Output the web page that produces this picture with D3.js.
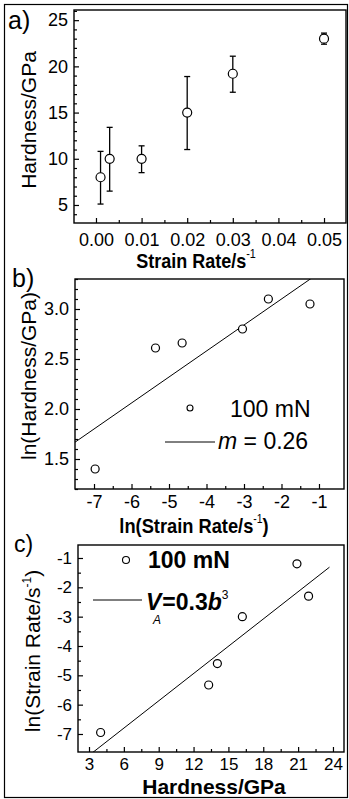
<!DOCTYPE html>
<html>
<head>
<meta charset="utf-8">
<script src="https://cdn.jsdelivr.net/npm/d3@7"></script>
<style>
  html, body { margin: 0; padding: 0; background: #fff; }
  svg { display: block; }
  text { font-family: "Liberation Sans", Arial, sans-serif; fill: #000; }
</style>
</head>
<body>
<script>
// panel a: hardness vs strain rate, with error bars
var aRate = [0.001, 0.003, 0.01, 0.02, 0.03, 0.05];
var aHard = [8, 10, 10, 15, 19.2, 23];
var aErrLow = [5.1, 6.5, 8.5, 11.0, 17.2, 22.4];
var aErrHigh = [10.8, 13.4, 11.4, 18.9, 21.1, 23.6];
var aXTicks = [0, 0.01, 0.02, 0.03, 0.04, 0.05];
var aYTicks = [5, 10, 15, 20, 25];

// panel b: ln(hardness) vs ln(strain rate)
var bLnRate = [-6.97, -5.36, -4.65, -3.04, -2.35, -1.24];
var bLnHard = [1.4, 2.61, 2.66, 2.8, 3.1, 3.05];
var bFit = [0.26, 3.62];        // slope, intercept
var bFitRange = [-7.6, -1.2];
var bXTicks = [-7, -6, -5, -4, -3, -2, -1];
var bYTicks = [1.5, 2.0, 2.5, 3.0];

// panel c: ln(strain rate) vs hardness
var cHard = [4.0, 13.3, 14.05, 16.2, 20.9, 21.9];
var cLnRate = [-6.95, -5.33, -4.6, -3.0, -1.2, -2.3];
var cFit = [0.31, -8.66];
var cFitRange = [3.3, 23.7];
var cXTicks = [3, 6, 9, 12, 15, 18, 21, 24];
var cYTicks = [-7, -6, -5, -4, -3, -2, -1];

var width = 349, height = 799;
var svg = d3.select("body").append("svg")
    .attr("width", width).attr("height", height);

svg.append("rect").attr("x", 4.5).attr("y", 4.5)
    .attr("width", 343).attr("height", 793)
    .attr("fill", "none").attr("stroke", "#000").attr("stroke-width", 1.2);

function minors(major) {
    var out = [];
    for (var i = 0; i < major.length - 1; i++) {
        out.push((major[i] + major[i + 1]) / 2);
    }
    return out;
}
function minorsN(major, n, lo, hi) {
    var step = (major[1] - major[0]) / n;
    var out = [];
    for (var v = major[0] - step * 20; v <= hi + 1e-9; v += step) {
        if (v < lo - 1e-9) continue;
        var isMajor = major.some(function (m) { return Math.abs(m - v) < 1e-6; });
        if (!isMajor) out.push(+v.toFixed(6));
    }
    return out;
}

function drawPanel(p) {
    var g = svg.append("g");
    var x = d3.scaleLinear().domain(p.xDomain).range([p.left, p.right]);
    var y = d3.scaleLinear().domain(p.yDomain).range([p.bottom, p.top]);
    var id = "clip" + p.name;
    svg.append("clipPath").attr("id", id).append("rect")
        .attr("x", p.left).attr("y", p.top)
        .attr("width", p.right - p.left).attr("height", p.bottom - p.top);

    // minor ticks
    g.append("g").attr("transform", "translate(0," + p.bottom + ")")
        .call(d3.axisBottom(x).tickValues(p.xMinor).tickSize(-3).tickFormat(""))
        .call(function (s) { s.select(".domain").remove(); });
    g.append("g").attr("transform", "translate(" + p.left + ",0)")
        .call(d3.axisLeft(y).tickValues(p.yMinor).tickSize(-3).tickFormat(""))
        .call(function (s) { s.select(".domain").remove(); });

    // major ticks
    var xa = g.append("g").attr("transform", "translate(0," + p.bottom + ")")
        .call(d3.axisBottom(x).tickValues(p.xTicks).tickSize(-5)
            .tickPadding(p.xPad).tickFormat(p.xFmt));
    var ya = g.append("g").attr("transform", "translate(" + p.left + ",0)")
        .call(d3.axisLeft(y).tickValues(p.yTicks).tickSize(-5)
            .tickPadding(6).tickFormat(p.yFmt));
    [xa, ya].forEach(function (a) {
        a.select(".domain").remove();
        a.selectAll("text").style("font-size", p.tickFont + "px")
            .attr("font-family", "Liberation Sans, Arial, sans-serif").attr("fill", "#000");
    });
    g.selectAll(".tick line").attr("stroke", "#000").attr("stroke-width", 1.2);

    g.append("rect").attr("x", p.left).attr("y", p.top)
        .attr("width", p.right - p.left).attr("height", p.bottom - p.top)
        .attr("fill", "none").attr("stroke", "#000").attr("stroke-width", 1.4);

    // fit line
    if (p.fit) {
        var fx = p.fitRange;
        g.append("path").attr("clip-path", "url(#" + id + ")")
            .attr("d", d3.line().x(function (d) { return x(d); })
                .y(function (d) { return y(p.fit[0] * d + p.fit[1]); })(fx))
            .attr("stroke", "#000").attr("stroke-width", 1).attr("fill", "none");
    }

    // error bars
    if (p.errLow) {
        p.xs.forEach(function (xv, i) {
            var px = x(xv);
            g.append("line").attr("x1", px).attr("x2", px)
                .attr("y1", y(p.errLow[i])).attr("y2", y(p.errHigh[i]))
                .attr("stroke", "#000").attr("stroke-width", 1.3);
            [p.errLow[i], p.errHigh[i]].forEach(function (v) {
                g.append("line").attr("x1", px - 3).attr("x2", px + 3)
                    .attr("y1", y(v)).attr("y2", y(v))
                    .attr("stroke", "#000").attr("stroke-width", 1.3);
            });
        });
    }

    g.selectAll("circle.pt").data(p.xs).enter().append("circle")
        .attr("class", "pt")
        .attr("cx", function (d) { return x(d); })
        .attr("cy", function (d, i) { return y(p.ys[i]); })
        .attr("r", p.r)
        .attr("fill", "#fff").attr("stroke", "#000").attr("stroke-width", 1.2);
    return g;
}

var intFmt = function (d) { return String(d); };

drawPanel({
    name: "a", left: 74, right: 346, top: 10, bottom: 223,
    xDomain: [-0.00482, 0.05482], yDomain: [3.05, 26.1],
    xTicks: aXTicks, yTicks: aYTicks,
    xMinor: minors(aXTicks), yMinor: minorsN(aYTicks, 5, 3.05, 26.1),
    xFmt: d3.format(".2f"), yFmt: intFmt, xPad: 10, tickFont: 18,
    xs: aRate, ys: aHard, errLow: aErrLow, errHigh: aErrHigh, r: 4.5
});
drawPanel({
    name: "b", left: 75, right: 344, top: 279, bottom: 489,
    xDomain: [-7.507, -0.333], yDomain: [1.2, 3.3],
    xTicks: bXTicks, yTicks: bYTicks,
    xMinor: minors(bXTicks), yMinor: minorsN(bYTicks, 5, 1.2, 3.3),
    xFmt: intFmt, yFmt: d3.format(".1f"), xPad: 6, tickFont: 18,
    xs: bLnRate, ys: bLnHard, r: 4, fit: bFit, fitRange: bFitRange
});
drawPanel({
    name: "c", left: 78, right: 344, top: 545, bottom: 752,
    xDomain: [2.053, 24.95], yDomain: [-7.614, -0.557],
    xTicks: cXTicks, yTicks: cYTicks,
    xMinor: minors(cXTicks), yMinor: minors(cYTicks),
    xFmt: intFmt, yFmt: intFmt, xPad: 6, tickFont: 17,
    xs: cHard, ys: cLnRate, r: 4, fit: cFit, fitRange: cFitRange
});

// panel labels
[["a)", 8, 29, 25], ["b)", 12, 287, 25], ["c)", 14, 552, 23]].forEach(function (l) {
    svg.append("text").attr("x", l[1]).attr("y", l[2]).style("font-size", l[3] + "px").text(l[0]);
});

// y titles
function yTitle(cx, cy, size, parts) {
    var t = svg.append("text")
        .attr("transform", "translate(" + cx + "," + cy + ") rotate(-90)")
        .attr("text-anchor", "middle").style("font-size", size + "px");
    parts.forEach(function (pt) {
        var s = t.append("tspan").text(pt.t);
        if (pt.sup) s.style("font-size", "12px").attr("dy", -9);
        if (pt.down) s.attr("dy", 9);
    });
}
yTitle(36, 120, 21, [{ t: "Hardness/GPa" }]);
yTitle(36, 376, 21, [{ t: "ln(Hardness/GPa)" }]);
yTitle(40, 651, 21, [{ t: "ln(Strain Rate/s" }, { t: "-1", sup: true }, { t: ")", down: true }]);

// x titles (bold, condensed)
function xTitle(cx, by, sx, size, parts) {
    var t = svg.append("text")
        .attr("transform", "translate(" + cx + "," + by + ") scale(" + sx + ",1)")
        .attr("text-anchor", "middle").style("font-size", size + "px").style("font-weight", "bold");
    parts.forEach(function (pt) {
        var s = t.append("tspan").text(pt.t);
        if (pt.sup) s.style("font-size", "12px").style("font-weight", "normal").attr("dy", -10);
        if (pt.down) s.attr("dy", 10);
    });
}
xTitle(196, 268, 0.9, 20, [{ t: "Strain Rate/s" }, { t: "-1", sup: true }]);
xTitle(194, 533, 0.87, 21, [{ t: "ln(Strain Rate/s" }, { t: "-1", sup: true }, { t: ")", down: true }]);
xTitle(214, 794, 1.0, 21, [{ t: "Hardness/GPa" }]);

// legend b
svg.append("circle").attr("cx", 190).attr("cy", 408).attr("r", 3)
    .attr("fill", "#fff").attr("stroke", "#000").attr("stroke-width", 1.1);
svg.append("text").attr("x", 230).attr("y", 417).style("font-size", "23px").text("100 mN");
svg.append("line").attr("x1", 165).attr("x2", 215).attr("y1", 442).attr("y2", 442)
    .attr("stroke", "#000").attr("stroke-width", 1);
var lb = svg.append("text").attr("x", 218).attr("y", 449).style("font-size", "23px");
lb.append("tspan").style("font-style", "italic").text("m");
lb.append("tspan").text(" = 0.26");

// legend c
svg.append("circle").attr("cx", 126).attr("cy", 560).attr("r", 3.5)
    .attr("fill", "#fff").attr("stroke", "#000").attr("stroke-width", 1.1);
svg.append("text").attr("x", 148).attr("y", 568).style("font-size", "23px")
    .style("font-weight", "bold").text("100 mN");
svg.append("line").attr("x1", 93).attr("x2", 142).attr("y1", 600).attr("y2", 600)
    .attr("stroke", "#000").attr("stroke-width", 1);
var lc = svg.append("text").attr("x", 146).attr("y", 610).style("font-size", "23px")
    .style("font-weight", "bold");
lc.append("tspan").style("font-style", "italic").text("V");
lc.append("tspan").attr("dx", 1).text("=0.3");
lc.append("tspan").style("font-style", "italic").text("b");
lc.append("tspan").style("font-size", "12px").style("font-weight", "normal").attr("dy", -11).text("3");
svg.append("text").attr("x", 153).attr("y", 624).style("font-size", "12px")
    .style("font-style", "italic").text("A");
</script>
</body>
</html>
